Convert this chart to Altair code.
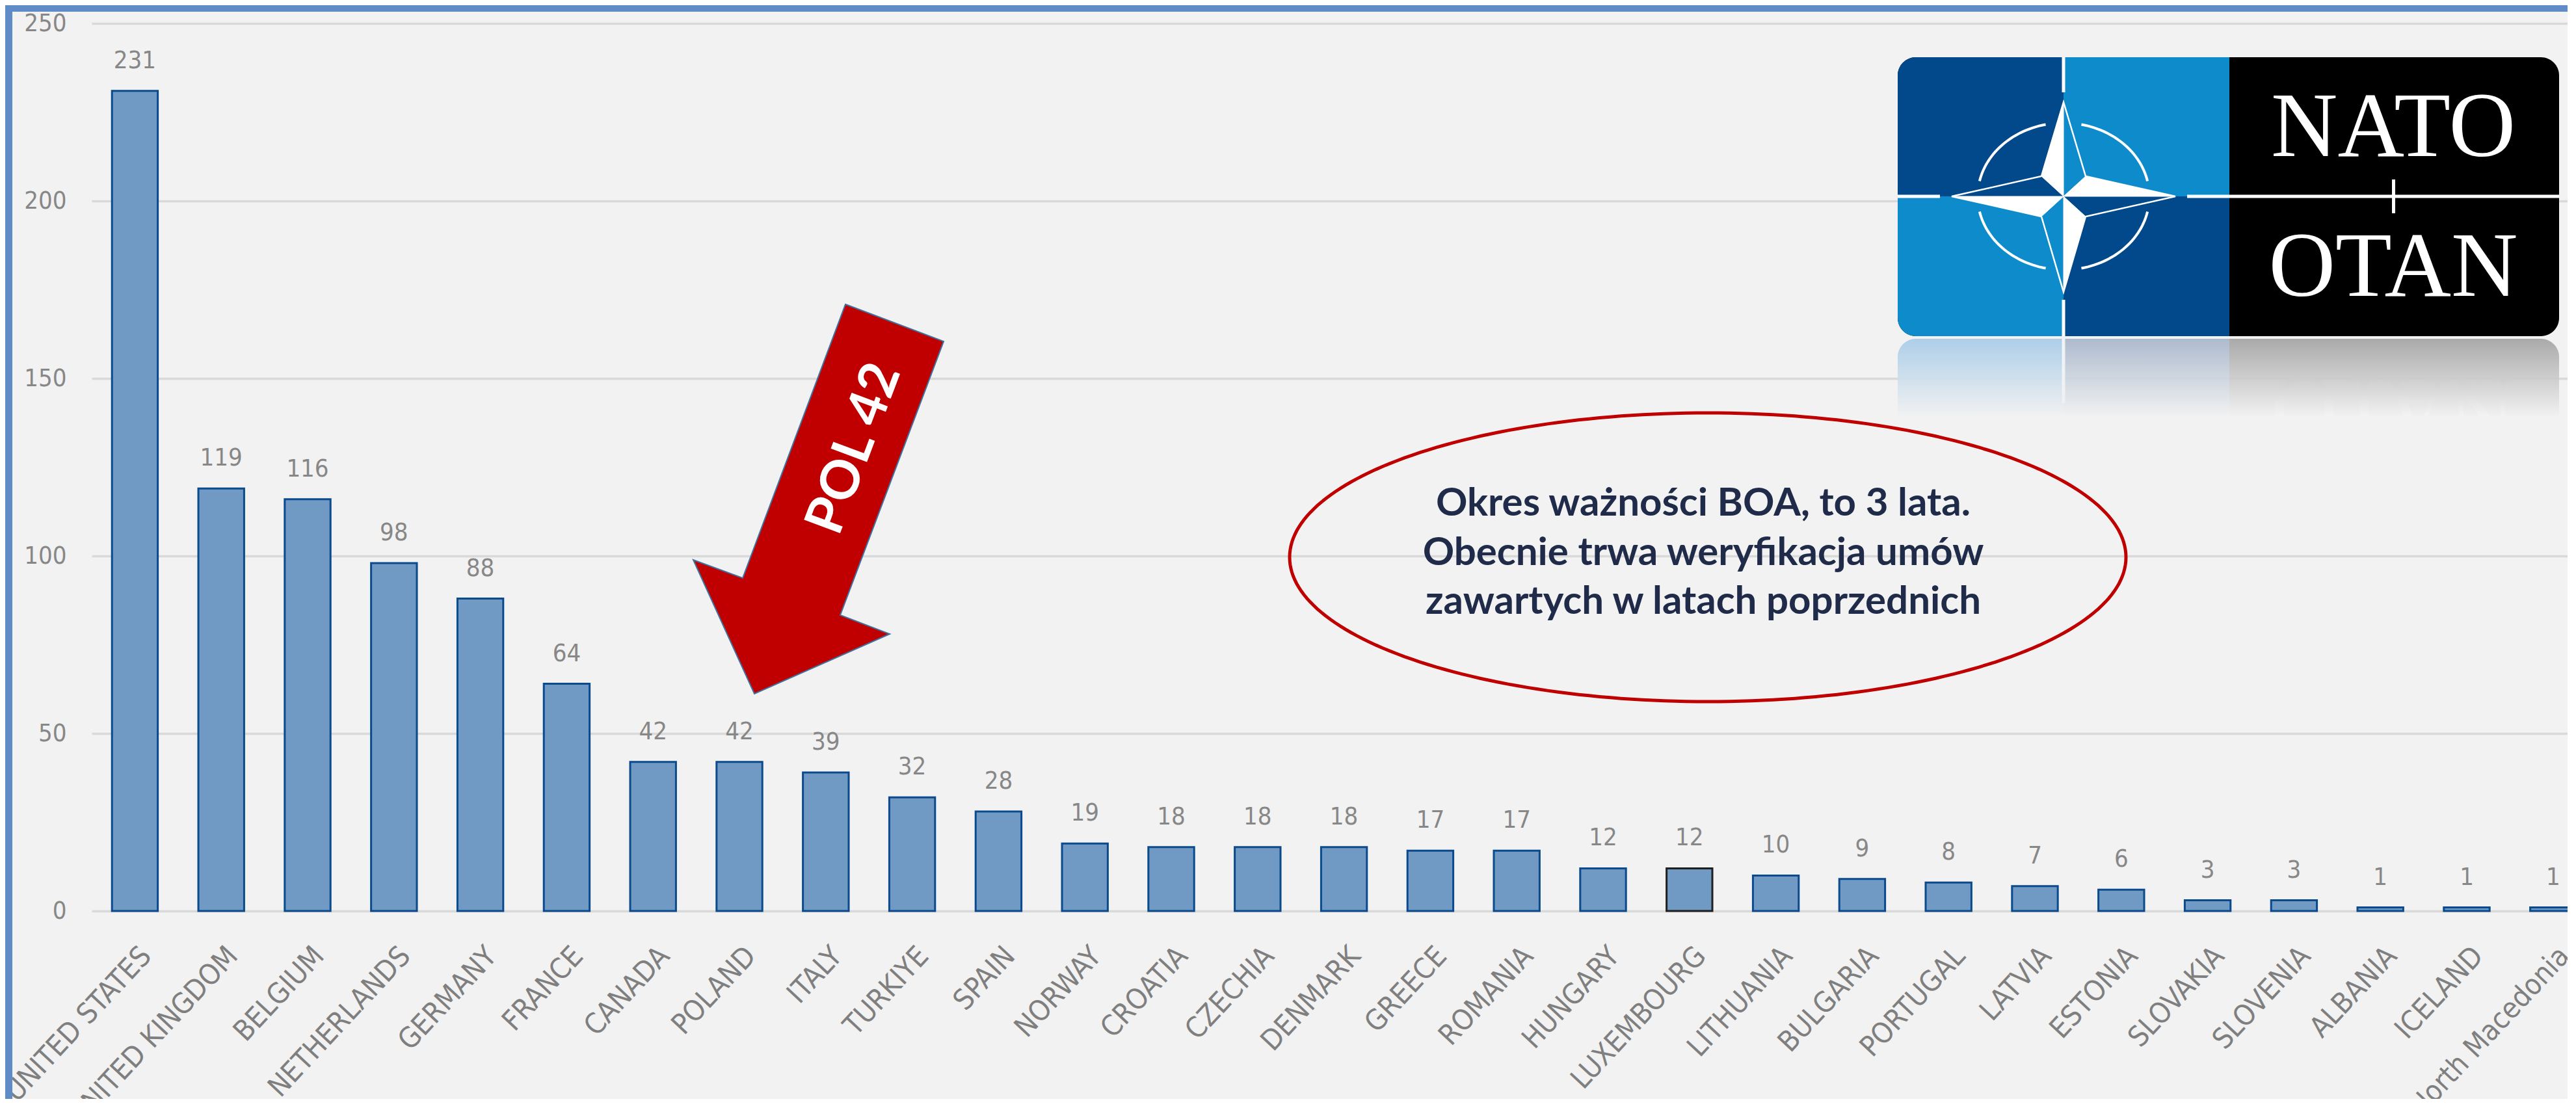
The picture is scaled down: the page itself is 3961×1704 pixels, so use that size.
import math
import altair as alt
import numpy as np
import pandas as pd

# ---------------- data ----------------
countries = ["UNITED STATES", "UNITED KINGDOM", "BELGIUM", "NETHERLANDS", "GERMANY",
             "FRANCE", "CANADA", "POLAND", "ITALY", "TURKIYE", "SPAIN", "NORWAY",
             "CROATIA", "CZECHIA", "DENMARK", "GREECE", "ROMANIA", "HUNGARY",
             "LUXEMBOURG", "LITHUANIA", "BULGARIA", "PORTUGAL", "LATVIA", "ESTONIA",
             "SLOVAKIA", "SLOVENIA", "ALBANIA", "ICELAND", "North Macedonia"]
values = [231, 119, 116, 98, 88, 64, 42, 42, 39, 32, 28, 19, 18, 18, 18, 17, 17,
          12, 12, 10, 9, 8, 7, 6, 3, 3, 1, 1, 1]
y_ticks = [0, 50, 100, 150, 200, 250]
note_lines = ["Okres ważności BOA, to 3 lata.",
              "Obecnie trwa weryfikacja umów",
              "zawartych w latach poprzednich"]
arrow_text = "POL 42"
logo_top_word = "NATO"
logo_bottom_word = "OTAN"
outlined_country = "LUXEMBOURG"

# ---------------- layout / style ----------------
PAD_L, PAD_T, PAD_R, PAD_B = 133, 28, 0, 289
W, H = 3807, 1365
STEP = 132.8
OX, OY = 8 + PAD_L, 8 + PAD_T          # page position of plot origin

NARROW = "Liberation Sans Narrow, DejaVu Sans Condensed, sans-serif"
BOLD = "Lato, Open Sans, sans-serif"
SERIF = "Liberation Serif, DejaVu Serif, serif"

BG = "#f2f2f2"
BORDER = "#5f8cc6"
BAR_FILL = "#7099c3"
BAR_STROKE = "#0b4a8c"
LABEL_GREY = "#878787"
RED = "#c00000"
NAVY = "#1f2b49"
DARK_BLUE = "#02498c"
LIGHT_BLUE = "#0e8bcb"


def one():
    return alt.Data(values=[{"k": 0}])


def rect_layer(x0, x1, y0, y1, **kw):
    return alt.Chart(one()).mark_rect(**kw).encode(
        x=alt.value(x0 - OX), x2=alt.value(x1 - OX),
        y=alt.value(y0 - OY), y2=alt.value(y1 - OY))


def text_layer(txt, x, y, **kw):
    return alt.Chart(one()).mark_text(text=txt, **kw).encode(
        x=alt.value(x - OX), y=alt.value(y - OY))


def sym_path(polys, cx, cy, half, close=True):
    parts = []
    for poly in polys:
        pts = [((px - cx) / half, (py - cy) / half) for px, py in poly]
        s = "M " + " L ".join(f"{a:.4f} {b:.4f}" for a, b in pts)
        if close:
            s += " Z"
        parts.append(s)
    return " ".join(parts)


def symbol_layer(polys, cx, cy, half, close=True, **kw):
    path = sym_path(polys, cx, cy, half, close)
    return alt.Chart(one()).mark_point(
        shape=path, size=(2 * half) ** 2, opacity=1, **kw).encode(
        x=alt.value(cx - OX), y=alt.value(cy - OY))


def vgrad(stops):
    return alt.LinearGradient(
        gradient="linear", x1=0, x2=0, y1=0, y2=1,
        stops=[alt.GradientStop(color=c, offset=o) for o, c in stops])


df = pd.DataFrame({"country": countries, "value": values})

x_enc = alt.X(
    "country:N", sort=countries, title=None,
    scale=alt.Scale(domain=countries, range=[0, STEP * len(countries)],
                    paddingInner=0.47, paddingOuter=0.235),
    axis=alt.Axis(labelAngle=313, labelAlign="right", labelBaseline="middle",
                  labelPadding=62, labelOffset=18, ticks=False, tickSize=0,
                  domain=False, grid=False, labelFont=NARROW, labelFontSize=44,
                  labelColor="#7f7f7f", labelLimit=0, labelOverlap=False))
y_enc = alt.Y(
    "value:Q", title=None,
    scale=alt.Scale(domain=[0, 250], nice=False, zero=True),
    axis=alt.Axis(values=y_ticks, grid=True, gridColor="#d9d9d9", gridWidth=3.5,
                  domain=False, ticks=False, tickSize=0, labelPadding=39,
                  labelFont=NARROW, labelFontSize=38, labelColor=LABEL_GREY))

bars = alt.Chart(df).mark_bar(fill=BAR_FILL, strokeWidth=3).encode(
    x=x_enc, y=y_enc,
    stroke=alt.condition(alt.datum.country == outlined_country,
                         alt.value("#202020"), alt.value(BAR_STROKE)))

bar_labels = alt.Chart(df).mark_text(
    baseline="alphabetic", dy=-35, font=NARROW, fontSize=38, color=LABEL_GREY
).encode(x=x_enc, y=y_enc, text="value:Q")

layers = []
# frame strips
layers.append(rect_layer(8, 19, 8, 1690, fill=BORDER))
layers.append(rect_layer(8, 3948, 8, 18, fill=BORDER))
layers += [bars, bar_labels]

# ---- red arrow pointing at Poland ----
arrow_pts = [(1300, 468), (1451, 525), (1292, 946), (1368, 975),
             (1160, 1067), (1066, 861), (1142, 889)]
layers.append(symbol_layer([arrow_pts], 1258, 767, 300, filled=True,
                           fill=RED, stroke="#41719c", strokeWidth=2))
layers.append(text_layer(arrow_text, 1314, 690, angle=290.6, align="center",
                         baseline="middle", font=BOLD, fontWeight="bold",
                         fontSize=82, color="white"))

# ---- ellipse note ----
ECX, ECY, ERX, ERY = 2626, 857, 643, 222
tt = np.linspace(0, 2 * math.pi, 240, endpoint=False)
ell = [(ECX + ERX * math.cos(a), ECY + ERY * math.sin(a)) for a in tt]
layers.append(symbol_layer([ell], ECX, ECY, ERX, filled=False, stroke=RED,
                           strokeWidth=5))
for line, yb in zip(note_lines, [793, 869, 944]):
    layers.append(text_layer(line, 2619, yb, align="center", baseline="alphabetic",
                             font=BOLD, fontWeight="bold", fontSize=60, color=NAVY))

# ---- NATO / OTAN logo ----
LX0, LX1, LY0, LY1 = 2918, 3935, 88, 517
XM, XC, YC = 3428, 3173, 302
R = 28
layers.append(rect_layer(LX0, LX1, LY0, LY1, fill="#000000", cornerRadius=R))
layers.append(rect_layer(LX0, XC, LY0, YC, fill=DARK_BLUE, cornerRadiusTopLeft=R))
layers.append(rect_layer(XC, XM, LY0, YC, fill=LIGHT_BLUE))
layers.append(rect_layer(LX0, XC, YC, LY1, fill=LIGHT_BLUE, cornerRadiusBottomLeft=R))
layers.append(rect_layer(XC, XM, YC, LY1, fill=DARK_BLUE))
# white lines
layers.append(rect_layer(LX0, 2983, YC - 2.5, YC + 2.5, fill="white"))
layers.append(rect_layer(3363, LX1, YC - 2.5, YC + 2.5, fill="white"))
layers.append(rect_layer(XC - 2.5, XC + 2.5, LY0, 142, fill="white"))
layers.append(rect_layer(XC - 2.5, XC + 2.5, 461, LY1, fill="white"))
layers.append(rect_layer(3678, 3683, 276, 328, fill="white"))
# compass ring
ring = []
for a0, a1 in [(12, 78), (102, 168), (192, 258), (282, 348)]:
    ang = np.radians(np.linspace(a0, a1, 30))
    ring.append([(XC + 132 * math.cos(a), YC + 113 * math.sin(a)) for a in ang])
layers.append(symbol_layer(ring, XC, YC, 172, close=False, filled=False,
                           stroke="white", strokeWidth=4))
# compass star
N, E, S, Wp = (XC, 157), (3345, YC), (XC, 449), (3001, YC)
NE, SE, SW, NW = (XC + 34, YC - 31), (XC + 34, YC + 31), (XC - 34, YC + 31), (XC - 34, YC - 31)
C = (XC, YC)
layers.append(symbol_layer([[N, NE, E, SE, S, SW, Wp, NW]], XC, YC, 172,
                           filled=False, stroke="white", strokeWidth=2.5))
layers.append(symbol_layer([[N, C, NW], [E, C, NE], [S, C, SE], [Wp, C, SW]],
                           XC, YC, 172, filled=True, fill="white",
                           stroke="white", strokeWidth=1))
layers.append(text_layer(logo_top_word, 3680, 240, align="center",
                         baseline="alphabetic", font=SERIF, fontSize=142,
                         color="white"))
layers.append(text_layer(logo_bottom_word, 3680, 455, align="center",
                         baseline="alphabetic", font=SERIF, fontSize=142,
                         color="white"))
# reflection
layers.append(rect_layer(LX0, XC, 521, 642, fill=vgrad([(0, "#a6cae7"), (1, BG)]),
                         cornerRadiusTopLeft=R, opacity=0.9))
layers.append(rect_layer(XC, XM, 521, 642, fill=vgrad([(0, "#a6b5ca"), (1, BG)]),
                         opacity=0.9))
layers.append(rect_layer(XM, LX1, 521, 642, fill=vgrad([(0, "#a2a2a2"), (1, BG)]),
                         cornerRadiusTopRight=R, opacity=0.9))
layers.append(rect_layer(XC - 2.5, XC + 2.5, 521, 620,
                         fill=vgrad([(0, "#ffffff"), (1, BG)]), opacity=0.8))
layers.append(text_layer(logo_top_word, 3680, 581, angle=180, align="center",
                         baseline="alphabetic", font=SERIF, fontSize=142,
                         fill=vgrad([(0, BG), (0.45, BG), (0.8, "#cccccc"), (1, "#cccccc")])))

chart = alt.layer(*layers).properties(
    width=W, height=H,
    padding={"left": PAD_L, "top": PAD_T, "right": PAD_R, "bottom": PAD_B},
    autosize=alt.AutoSizeParams(type="none"),
).configure(background=BG).configure_view(stroke=None)

chart.save("out.html", embed_options={"renderer": "svg", "actions": False})
